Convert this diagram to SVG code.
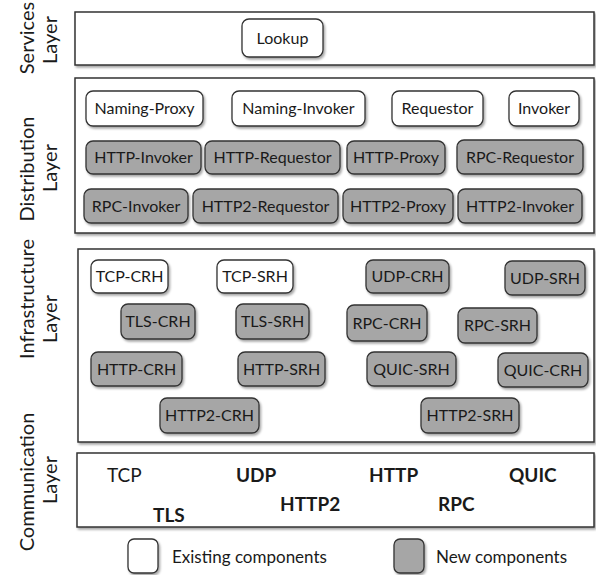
<svg xmlns="http://www.w3.org/2000/svg" width="596" height="575" viewBox="0 0 596 575">
<defs>
<filter id="sh" x="-10%" y="-10%" width="130%" height="140%">
<feDropShadow dx="1.5" dy="2" stdDeviation="1.2" flood-color="#000" flood-opacity="0.35"/>
</filter>
<style>
text{font-family:Lato,"Liberation Sans",sans-serif;fill:#1a1a1a}
.layer{fill:#fff;stroke:#333;stroke-width:1.5;filter:url(#sh)}
.old rect{fill:#fff;stroke:#333;stroke-width:1.3;filter:url(#sh)}
.new rect{fill:#a6a6a6;stroke:#333;stroke-width:1.3;filter:url(#sh)}
.n text{font-size:16px;text-anchor:middle}
.lbl{font-size:20px;text-anchor:middle}
.proto{font-size:19px;font-weight:bold}
.leg{font-size:17px}
</style>
</defs>

<g id="layer-labels">
<text class="lbl" transform="translate(34,38) rotate(-90)">Services</text>
<text class="lbl" transform="translate(57,40) rotate(-90)">Layer</text>
<text class="lbl" transform="translate(34,169) rotate(-90)">Distribution</text>
<text class="lbl" transform="translate(57,168) rotate(-90)">Layer</text>
<text class="lbl" transform="translate(34,299) rotate(-90)">Infrastructure</text>
<text class="lbl" transform="translate(57,319) rotate(-90)">Layer</text>
<text class="lbl" transform="translate(34,482) rotate(-90)">Communication</text>
<text class="lbl" transform="translate(57,480) rotate(-90)">Layer</text>
</g>

<g id="layers">
<rect id="services-layer" class="layer" x="75" y="12" width="519" height="53"/>
<rect id="distribution-layer" class="layer" x="75" y="78" width="519" height="155"/>
<rect id="infrastructure-layer" class="layer" x="78" y="249" width="516" height="193"/>
<rect id="communication-layer" class="layer" x="77" y="453" width="517" height="74"/>
</g>

<g id="connectors"></g>

<g id="lookup" class="n old"><rect x="242" y="19" width="81" height="38" rx="7"/><text x="282.5" y="43.5">Lookup</text></g>

<g id="naming-proxy" class="n old"><rect x="86" y="91" width="117" height="35" rx="7"/><text x="144.5" y="114">Naming-Proxy</text></g>
<g id="naming-invoker" class="n old"><rect x="232" y="91" width="133" height="35" rx="7"/><text x="298.5" y="114">Naming-Invoker</text></g>
<g id="requestor" class="n old"><rect x="392" y="91" width="91" height="35" rx="7"/><text x="437.5" y="114">Requestor</text></g>
<g id="invoker" class="n old"><rect x="509" y="91" width="70" height="35" rx="7"/><text x="544" y="114">Invoker</text></g>

<g id="http-invoker" class="n new"><rect x="86" y="141" width="115" height="33" rx="7"/><text x="143.5" y="163">HTTP-Invoker</text></g>
<g id="http-requestor" class="n new"><rect x="205" y="141" width="135" height="33" rx="7"/><text x="272.5" y="163">HTTP-Requestor</text></g>
<g id="http-proxy" class="n new"><rect x="347" y="141" width="98" height="33" rx="7"/><text x="396" y="163">HTTP-Proxy</text></g>
<g id="rpc-requestor" class="n new"><rect x="457" y="140" width="126" height="34" rx="7"/><text x="520" y="162.5">RPC-Requestor</text></g>

<g id="rpc-invoker" class="n new"><rect x="84" y="189" width="104" height="34" rx="7"/><text x="136" y="211.5">RPC-Invoker</text></g>
<g id="http2-requestor" class="n new"><rect x="193" y="189" width="145" height="34" rx="7"/><text x="265.5" y="211.5">HTTP2-Requestor</text></g>
<g id="http2-proxy" class="n new"><rect x="343" y="189" width="110" height="34" rx="7"/><text x="398" y="211.5">HTTP2-Proxy</text></g>
<g id="http2-invoker" class="n new"><rect x="458" y="189" width="124" height="34" rx="7"/><text x="520" y="211.5">HTTP2-Invoker</text></g>

<g id="tcp-crh" class="n old"><rect x="91" y="260" width="77" height="33" rx="7"/><text x="129.5" y="282">TCP-CRH</text></g>
<g id="tcp-srh" class="n old"><rect x="217" y="260" width="76" height="33" rx="7"/><text x="255" y="282">TCP-SRH</text></g>
<g id="tls-crh" class="n new"><rect x="121" y="304" width="74" height="35" rx="7"/><text x="158" y="327">TLS-CRH</text></g>
<g id="tls-srh" class="n new"><rect x="236" y="304" width="73" height="35" rx="7"/><text x="272.5" y="327">TLS-SRH</text></g>
<g id="http-crh" class="n new"><rect x="91" y="352" width="91" height="34" rx="7"/><text x="136.5" y="374.5">HTTP-CRH</text></g>
<g id="http-srh" class="n new"><rect x="238" y="352" width="87" height="34" rx="7"/><text x="281.5" y="374.5">HTTP-SRH</text></g>
<g id="http2-crh" class="n new"><rect x="160" y="398" width="99" height="35" rx="7"/><text x="209.5" y="421">HTTP2-CRH</text></g>
<g id="udp-crh" class="n new"><rect x="366" y="260" width="83" height="33" rx="7"/><text x="407.5" y="282">UDP-CRH</text></g>
<g id="udp-srh" class="n new"><rect x="505" y="261" width="80" height="34" rx="7"/><text x="545" y="283.5">UDP-SRH</text></g>
<g id="rpc-crh" class="n new"><rect x="347" y="305" width="80" height="36" rx="7"/><text x="387" y="328.5">RPC-CRH</text></g>
<g id="rpc-srh" class="n new"><rect x="458" y="308" width="79" height="35" rx="7"/><text x="497.5" y="331">RPC-SRH</text></g>
<g id="quic-srh" class="n new"><rect x="367" y="352" width="89" height="34" rx="7"/><text x="411.5" y="374.5">QUIC-SRH</text></g>
<g id="quic-crh" class="n new"><rect x="498" y="353" width="90" height="34" rx="7"/><text x="543" y="375.5">QUIC-CRH</text></g>
<g id="http2-srh" class="n new"><rect x="421" y="398" width="98" height="35" rx="7"/><text x="470" y="421">HTTP2-SRH</text></g>

<g id="protocols">
<text x="107" y="482" style="font-size:19px">TCP</text>
<text class="proto" x="236" y="482">UDP</text>
<text class="proto" x="369" y="482">HTTP</text>
<text class="proto" x="509" y="482">QUIC</text>
<text class="proto" x="153" y="522">TLS</text>
<text class="proto" x="280" y="511">HTTP2</text>
<text class="proto" x="438" y="511">RPC</text>
</g>

<g id="legend">
<g class="old"><rect x="128" y="539" width="30" height="34" rx="6"/></g>
<text class="leg" x="172" y="563">Existing components</text>
<g class="new"><rect x="394" y="539" width="30" height="34" rx="6"/></g>
<text class="leg" x="436" y="563">New components</text>
</g>
</svg>
